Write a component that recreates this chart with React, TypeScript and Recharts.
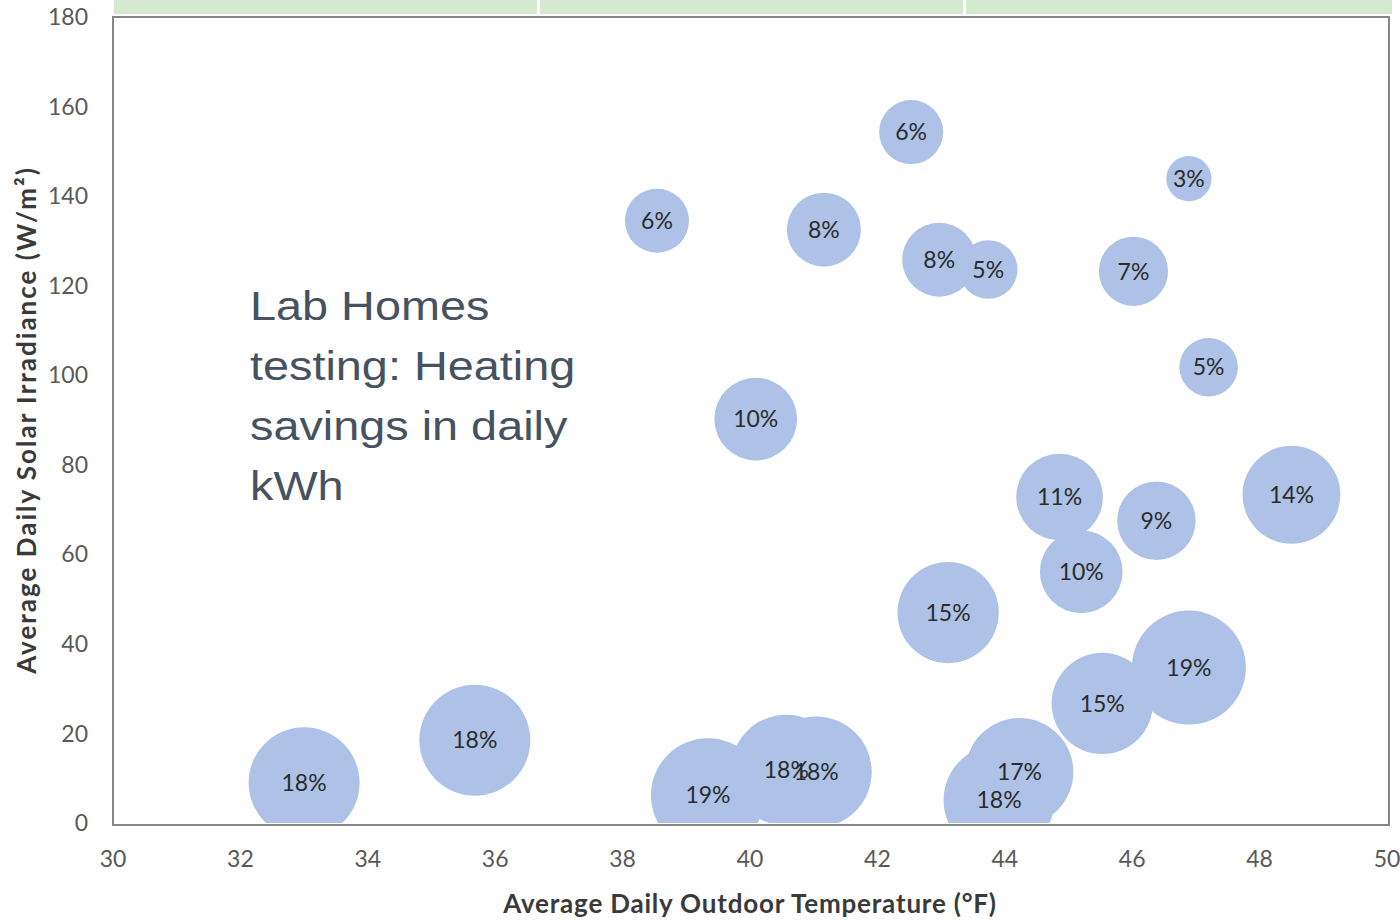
import React from 'react';
import { ScatterChart, Scatter, XAxis, YAxis, ZAxis, LabelList } from 'recharts';

// bubble centres
const temperature = [33.0, 35.68, 38.54, 40.09, 41.16, 42.53, 42.97, 43.74, 46.89, 46.02, 47.2, 48.5, 44.86, 46.38, 45.2, 43.11, 46.89, 45.53, 39.34, 40.57, 41.04, 44.23, 43.91];
const irradiance = [9, 18.5, 134.5, 90.2, 132.5, 154.3, 125.8, 123.6, 143.9, 123.2, 101.8, 73.3, 72.8, 67.5, 56.1, 47.0, 34.7, 26.7, 6.2, 11.8, 11.4, 11.4, 5.1];
const savings = [18, 18, 6, 10, 8, 6, 8, 5, 3, 7, 5, 14, 11, 9, 10, 15, 19, 15, 19, 18, 18, 17, 18];

const xTicks = [30, 32, 34, 36, 38, 40, 42, 44, 46, 48, 50];
const yTicks = [0, 20, 40, 60, 80, 100, 120, 140, 160, 180];

const data = temperature.map((t, i) => ({
  temp: t,
  solar: irradiance[i],
  saving: savings[i],
  label: `${savings[i]}%`,
}));

const FONT = 'Lato, "Open Sans", sans-serif';

const App: React.FC = () => {
  return (
    <div style={{ position: 'absolute', left: 0, top: 0, width: 1400, height: 923, background: '#fff', overflow: 'hidden' }}>
      {/* table header strip cut off at the top */}
      <div style={{ position: 'absolute', left: 114, top: 0, width: 423, height: 14, background: '#d5e8d0' }} />
      <div style={{ position: 'absolute', left: 540, top: 0, width: 423, height: 14, background: '#d5e8d0' }} />
      <div style={{ position: 'absolute', left: 966, top: 0, width: 426, height: 14, background: '#d5e8d0' }} />

      {/* plot frame, sits under the bubbles */}
      <div style={{ position: 'absolute', left: 112, top: 16, width: 1274, height: 806, border: '2px solid #868686' }} />

      <div style={{ position: 'absolute', left: 0, top: 0 }}>
        <ScatterChart width={1400} height={923} margin={{ top: 17, right: 13, left: 0, bottom: 0 }}>
          <XAxis
            type="number"
            dataKey="temp"
            domain={[30, 50]}
            ticks={xTicks}
            height={100}
            axisLine={false}
            tickLine={false}
            tickMargin={22}
            tick={{ fill: '#595959', fontSize: 23, fontFamily: FONT }}
            label={{
              value: 'Average Daily Outdoor Temperature (°F)',
              position: 'insideBottom',
              offset: 10,
              fill: '#3a3a3a',
              fontSize: 26,
              fontWeight: 700,
              fontFamily: FONT,
              letterSpacing: 0.8,
            }}
          />
          <YAxis
            type="number"
            dataKey="solar"
            domain={[0, 180]}
            ticks={yTicks}
            allowDataOverflow
            width={113}
            axisLine={false}
            tickLine={false}
            tickMargin={19}
            tick={{ fill: '#595959', fontSize: 23, fontFamily: FONT }}
            label={{
              value: 'Average Daily Solar Irradiance (W/m²)',
              angle: -90,
              position: 'insideLeft',
              offset: 27,
              fill: '#3a3a3a',
              fontSize: 26,
              fontWeight: 700,
              fontFamily: FONT,
              letterSpacing: 2,
              style: { textAnchor: 'middle' },
            }}
          />
          <ZAxis type="number" dataKey="saving" domain={[0, 19]} range={[0, 10207]} />
          <Scatter data={data} fill="#adc2e6" isAnimationActive={false}>
            <LabelList dataKey="label" position="center" fill="#2b2b2b" fontSize={23} fontFamily={FONT} />
          </Scatter>
        </ScatterChart>
      </div>

      <div
        style={{
          position: 'absolute',
          left: 250,
          top: 276,
          fontFamily: '"Liberation Sans", Arial, sans-serif',
          fontSize: 40,
          lineHeight: '60px',
          color: '#46525f',
          transform: 'scaleX(1.17)',
          transformOrigin: 'left top',
          whiteSpace: 'nowrap',
        }}
      >
        Lab Homes
        <br />
        testing: Heating
        <br />
        savings in daily
        <br />
        kWh
      </div>
    </div>
  );
};

export default App;
